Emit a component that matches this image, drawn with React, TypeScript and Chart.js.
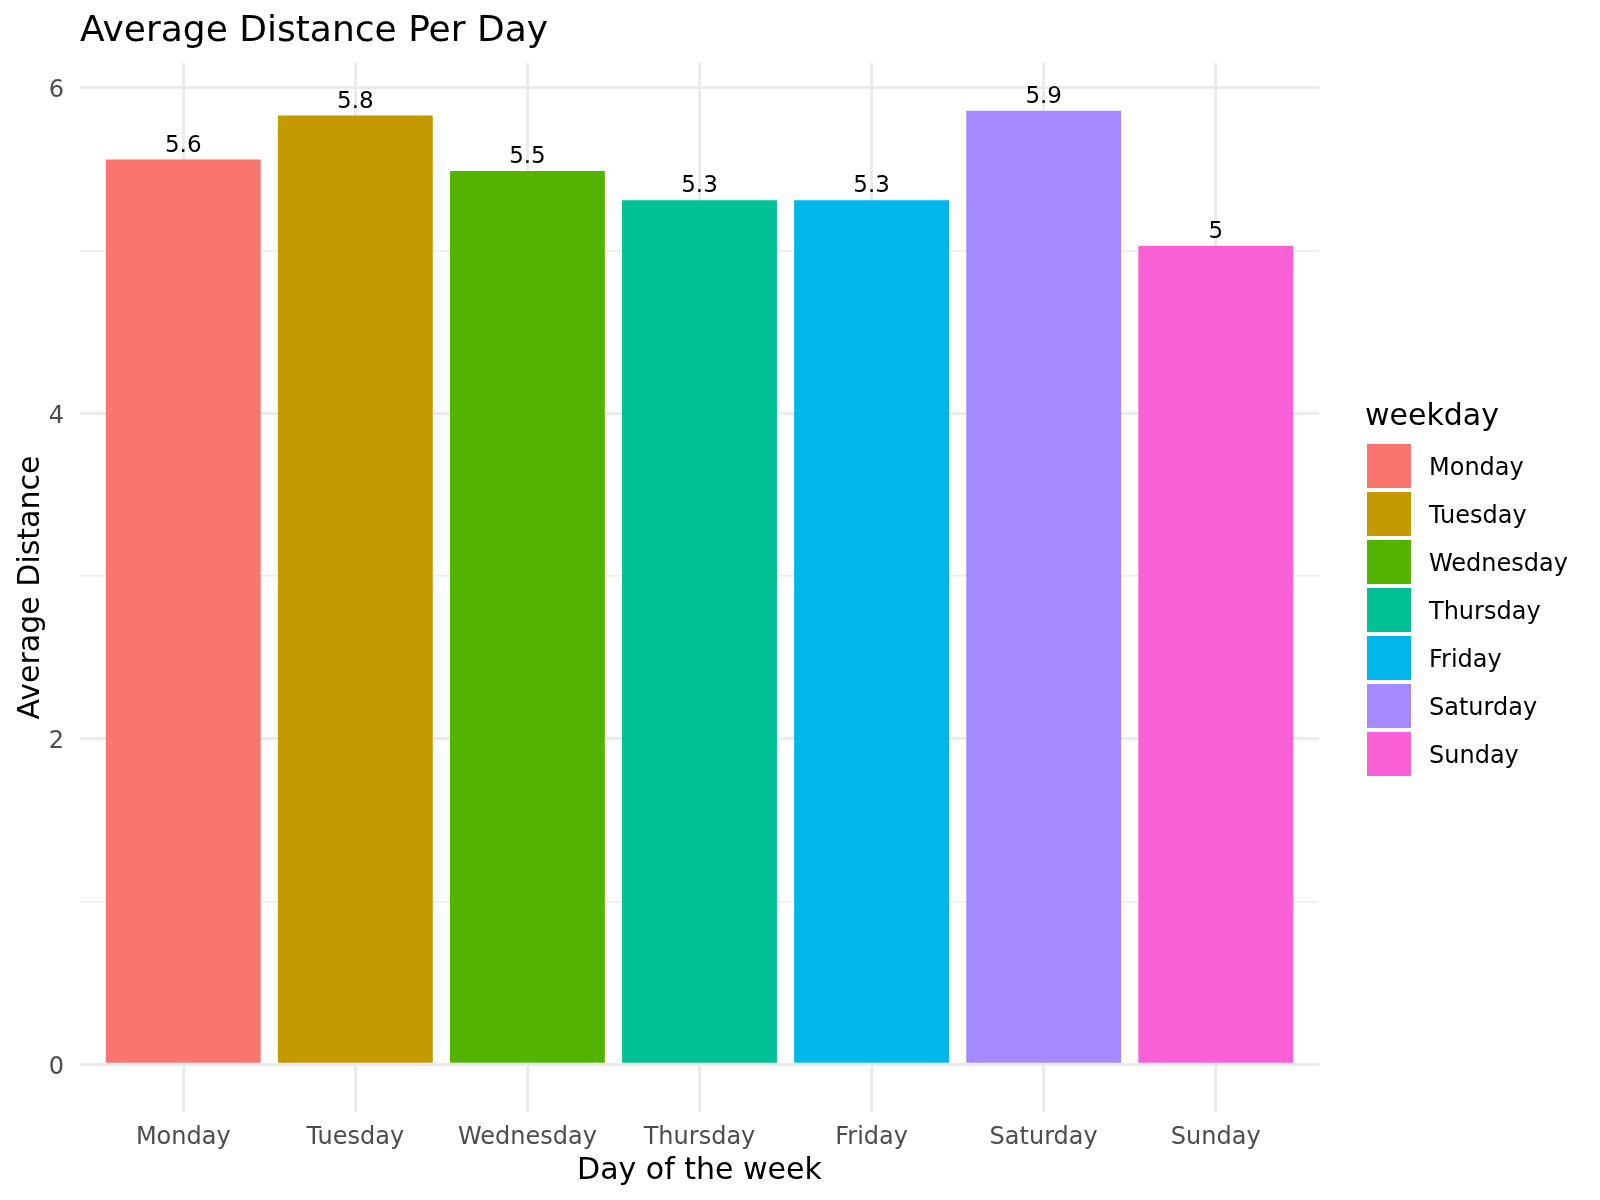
import React, { useEffect, useRef } from "react";
import { Chart, registerables } from "chart.js";

Chart.register(...registerables);

const days = ["Monday", "Tuesday", "Wednesday", "Thursday", "Friday", "Saturday", "Sunday"];
const avgDistance = [5.56, 5.83, 5.49, 5.31, 5.31, 5.86, 5.03];
const dayColors = ["#F8766D", "#C49A00", "#53B400", "#00C094", "#00B6EB", "#A58AFF", "#FB61D7"];
const yTicks = [0, 1, 2, 3, 4, 5, 6];
const chartTitle = "Average Distance Per Day";
const xTitle = "Day of the week";
const yTitle = "Average Distance";
const legendTitle = "weekday";

const FONT = "'DejaVu Sans', 'Liberation Sans', sans-serif";

export default function App() {
  const ref = useRef<HTMLCanvasElement | null>(null);

  useEffect(() => {
    document.body.style.margin = "0";
    const canvas = ref.current;
    if (!canvas) return;

    const maxV = Math.max(...avgDistance);
    const yMax = maxV * 1.05;
    const yMin = -maxV * 0.05;

    const overlay = {
      id: "overlay",
      afterDatasetsDraw(chart: any) {
        const ctx = chart.ctx;
        const meta = chart.getDatasetMeta(0);
        ctx.save();
        ctx.fillStyle = "#000000";
        ctx.font = `23px ${FONT}`;
        ctx.textAlign = "center";
        ctx.textBaseline = "alphabetic";
        meta.data.forEach((bar: any, i: number) => {
          const label = String(Math.round(avgDistance[i] * 10) / 10);
          ctx.fillText(label, bar.x, bar.y - 8);
        });
        ctx.restore();
      },
      afterDraw(chart: any) {
        const ctx = chart.ctx;
        const area = chart.chartArea;
        ctx.save();
        // title
        ctx.fillStyle = "#000000";
        ctx.font = `36px ${FONT}`;
        ctx.textAlign = "left";
        ctx.textBaseline = "middle";
        ctx.fillText(chartTitle, area.left, 32);
        // legend
        const lx = 1367;
        ctx.font = `30px ${FONT}`;
        ctx.fillText(legendTitle, lx - 2, 417);
        ctx.font = `24px ${FONT}`;
        days.forEach((d, i) => {
          const top = 444 + i * 48;
          ctx.fillStyle = dayColors[i];
          ctx.fillRect(lx, top, 44, 44);
          ctx.fillStyle = "#000000";
          ctx.fillText(d, lx + 62, top + 25);
        });
        ctx.restore();
      },
    };

    const chart = new Chart(canvas, {
      type: "bar",
      data: {
        datasets: [
          {
            label: yTitle,
            data: avgDistance.map((v, i) => ({ x: i + 1, y: v })),
            backgroundColor: dayColors,
            borderWidth: 0,
            barPercentage: 0.9,
            categoryPercentage: 1.0,
          },
        ],
      },
      options: {
        responsive: false,
        animation: false,
        layout: { padding: { top: 63, right: 281, bottom: 0, left: 0 } },
        plugins: {
          legend: { display: false },
          title: { display: false },
          tooltip: { enabled: false },
        },
        scales: {
          x: {
            type: "linear",
            min: 0.4,
            max: 7.6,
            offset: false,
            grid: { offset: false, color: "#EBEBEB", lineWidth: 3, drawTicks: false },
            border: { display: false },
            afterBuildTicks: (scale: any) => {
              scale.ticks = days.map((_, i) => ({ value: i + 1 }));
            },
            afterFit: (scale: any) => {
              scale.height = 88;
            },
            ticks: {
              autoSkip: false,
              maxRotation: 0,
              padding: 11,
              color: "#4D4D4D",
              font: { size: 24, family: FONT },
              callback: (v: any) => days[Math.round(Number(v)) - 1] ?? "",
            },
            title: {
              display: true,
              text: xTitle,
              color: "#000000",
              font: { size: 30, family: FONT },
              padding: { top: 0, bottom: 11 },
            },
          },
          y: {
            type: "linear",
            min: yMin,
            max: yMax,
            grid: {
              color: "#EBEBEB",
              lineWidth: (c: any) => (c.tick && c.tick.value % 2 === 0 ? 3 : 1.5),
              drawTicks: false,
            },
            border: { display: false },
            afterBuildTicks: (scale: any) => {
              scale.ticks = yTicks.map((v) => ({ value: v }));
            },
            afterFit: (scale: any) => {
              scale.width = 80;
            },
            ticks: {
              autoSkip: false,
              padding: 16,
              labelOffset: 3,
              color: "#4D4D4D",
              font: { size: 24, family: FONT },
              callback: (v: any) => (Number(v) % 2 === 0 ? String(v) : ""),
            },
            title: {
              display: true,
              text: yTitle,
              color: "#000000",
              font: { size: 30, family: FONT },
              padding: { top: 13, bottom: 0 },
            },
          },
        },
      },
      plugins: [overlay],
    } as any);

    return () => chart.destroy();
  }, []);

  return (
    <div style={{ width: 1600, height: 1200, background: "#FFFFFF" }}>
      <canvas ref={ref} width={1600} height={1200} style={{ display: "block" }} />
    </div>
  );
}
